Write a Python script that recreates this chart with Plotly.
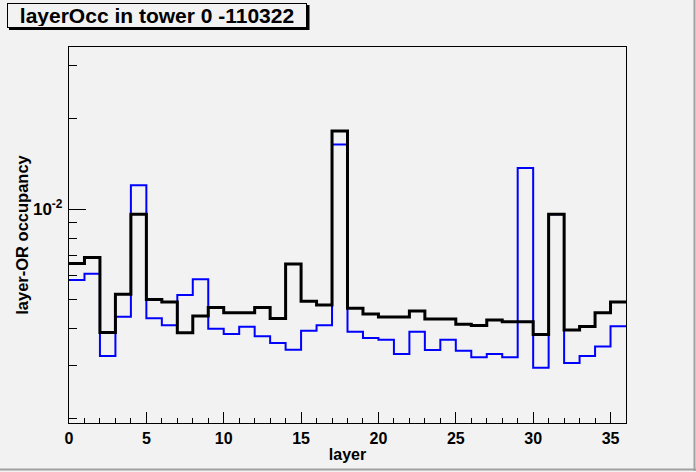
import plotly.graph_objects as go

# ---- data ----
layers = list(range(37))  # bin edges 0..36
black_vals = [6.59e-3, 6.9e-3, 3.88e-3, 5.2e-3, 9.6e-3, 5.0e-3, 4.9e-3, 3.87e-3, 4.4e-3, 4.7e-3,
              4.51e-3, 4.51e-3, 4.7e-3, 4.32e-3, 6.56e-3, 4.93e-3, 4.79e-3, 1.82e-2, 4.67e-3, 4.47e-3,
              4.37e-3, 4.37e-3, 4.57e-3, 4.3e-3, 4.3e-3, 4.13e-3, 4.09e-3, 4.27e-3, 4.21e-3, 4.21e-3,
              3.82e-3, 9.6e-3, 3.95e-3, 4.06e-3, 4.51e-3, 4.9e-3]
blue_vals = [5.8e-3, 6.09e-3, 3.24e-3, 4.38e-3, 1.2e-2, 4.33e-3, 4.1e-3, 5.17e-3, 5.84e-3, 3.99e-3,
             3.83e-3, 4.05e-3, 3.77e-3, 3.58e-3, 3.4e-3, 3.93e-3, 4.1e-3, 1.64e-2, 3.9e-3, 3.72e-3,
             3.67e-3, 3.29e-3, 3.9e-3, 3.39e-3, 3.67e-3, 3.37e-3, 3.21e-3, 3.29e-3, 3.21e-3, 1.37e-2,
             2.96e-3, 9.6e-3, 3.07e-3, 3.24e-3, 3.48e-3, 4.07e-3]
x_ticks = [0, 5, 10, 15, 20, 25, 30, 35]
y_major_ticks = [0.01]
y_major_labels = ["10<sup>-2</sup>"]
y_minor_ticks = [0.002, 0.003, 0.004, 0.005, 0.006, 0.007, 0.008, 0.009, 0.02, 0.03]
title_text = "layerOcc in tower 0 -110322"

W, H = 696, 472
L, R, T, B = 69, 70, 47, 49
pw, ph = W - L - R, H - T - B
def px(x): return (x - L) / pw
def py(y): return (H - B - y) / ph

BG = "#f2f2f2"
FONT = "Liberation Sans"

fig = go.Figure()
fig.add_trace(go.Scatter(x=layers, y=blue_vals + blue_vals[-1:], mode="lines",
                         line=dict(shape="hv", color="#0000ff", width=2), showlegend=False))
fig.add_trace(go.Scatter(x=layers, y=black_vals + black_vals[-1:], mode="lines",
                         line=dict(shape="hv", color="#000000", width=3), showlegend=False))

fig.update_layout(
    width=W, height=H,
    margin=dict(l=L, r=R, t=T, b=B, autoexpand=False),
    paper_bgcolor=BG, plot_bgcolor=BG,
    font=dict(family=FONT, color="black", size=16, weight="bold"),
    xaxis=dict(range=[0, 36], tickvals=x_ticks, ticks="inside", ticklen=11, tickwidth=1,
               tickcolor="black", showline=True, linecolor="black", linewidth=1.3, mirror=True,
               showgrid=False, zeroline=False, ticklabelstandoff=1, automargin=False,
               minor=dict(dtick=1, ticks="inside", ticklen=5, tickcolor="black", tickwidth=1, showgrid=False),
               title=dict(text="layer", font=dict(size=16, weight="bold"), standoff=2),
               tickfont=dict(size=16, weight="bold")),
    yaxis=dict(type="log", range=[-2.713, -1.46], tickvals=y_major_ticks, ticktext=y_major_labels,
               ticks="inside", ticklen=17, tickwidth=1, tickcolor="black",
               showline=True, linecolor="black", linewidth=1.3, mirror=True,
               showgrid=False, zeroline=False, ticklabelstandoff=2, automargin=False,
               minor=dict(tickvals=y_minor_ticks, ticks="inside", ticklen=8, tickcolor="black",
                          tickwidth=1, showgrid=False),
               title=dict(text="layer-OR occupancy", font=dict(size=16.5, weight="bold"), standoff=0),
               tickfont=dict(size=17, weight="bold")),
)

# canvas bevel
fig.add_shape(type="line", xref="paper", yref="paper", x0=px(694.5), x1=px(694.5), y0=py(0), y1=py(471),
              line=dict(color="#a0a0a0", width=2))
fig.add_shape(type="line", xref="paper", yref="paper", x0=px(0), x1=px(696), y0=py(469.5), y1=py(469.5),
              line=dict(color="#a0a0a0", width=2))
# title shadow
fig.add_shape(type="rect", xref="paper", yref="paper", x0=px(9), x1=px(309.5), y0=py(5), y1=py(30),
              fillcolor="black", line=dict(width=0), layer="above")
fig.add_annotation(text=title_text, xref="paper", yref="paper", x=px(7), y=py(3),
                   xanchor="left", yanchor="top", showarrow=False, width=296, height=21,
                   bgcolor=BG, bordercolor="black", borderwidth=1, borderpad=1,
                   font=dict(size=21, weight="bold", family=FONT))

fig.write_html("out.html", config={"displayModeBar": False},
               post_script="document.body.style.margin='0px';document.body.style.background='%s';" % BG)
